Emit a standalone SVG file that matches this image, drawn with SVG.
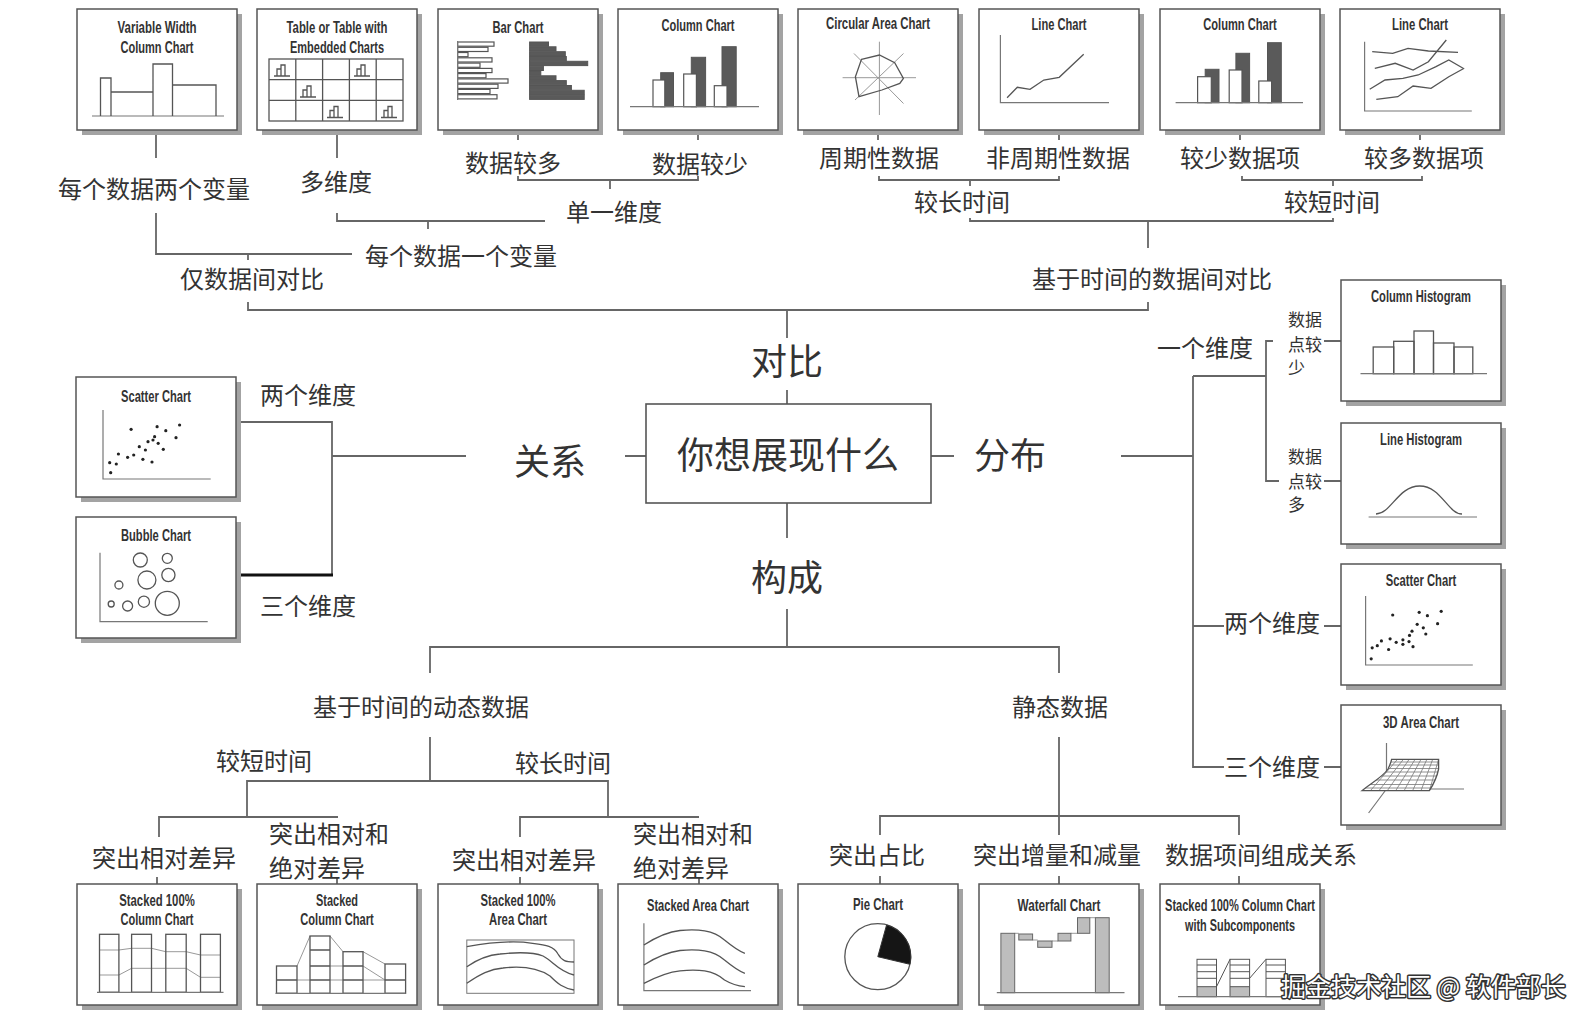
<svg xmlns="http://www.w3.org/2000/svg" width="1591" height="1029" viewBox="0 0 1591 1029">
<defs>
<style>
.sh{fill:#a3a3a3}
.bx{fill:#fff;stroke:#555;stroke-width:1.5}
.tt{font-family:"Liberation Sans Narrow","Liberation Sans",Arial,sans-serif;font-weight:700;font-size:17px;fill:#333;text-anchor:middle}
.lb{font-family:"Noto Sans CJK SC","Noto Sans CJK JP",sans-serif;font-size:24px;fill:#333;text-anchor:middle}
.lg{font-size:36px}
.sm{font-size:17px;text-anchor:start}
.st{text-anchor:start}
.cn{fill:none;stroke:#666;stroke-width:1.8}
.ax{fill:none;stroke:#777;stroke-width:1.2}
.ch{fill:none;stroke:#555;stroke-width:1.3}
.wb{fill:#fff;stroke:#555;stroke-width:1.2}
.db{fill:#5a5a5a;stroke:#555;stroke-width:1}
.gb{fill:#bdbdbd;stroke:#666;stroke-width:1}
.gl{fill:none;stroke:#999;stroke-width:1}
.dt{fill:#222}
.wm{font-family:"Noto Sans CJK SC",sans-serif;font-size:25px;fill:#fff;stroke:#333;stroke-width:3;paint-order:stroke;stroke-linejoin:round}
</style>
<g id="mi"><path class="ch" d="M0,13 H16 M3,13 V6 H7 V13 M7,13 V2 H11 V13"/></g>
<clipPath id="c3d"><path d="M50.6,54.3 L97.6,54.3 L97.6,64 C96,72 92,80 88.4,85.7 L21,85.7 C30,78 42,72 47,64 C49,60 50,57 50.6,54.3 Z"/></clipPath>
</defs>
<rect width="1591" height="1029" fill="#fff"/>

<g id="connectors">
<path class="cn" d="M156,130 V158 M156,213 V254 H352 M248,254 V260 M337,130 V158 M337,213 V221 H545 M428,221 V229"/>
<path class="cn" d="M518,130 V140 M698,130 V140 M518,176 V180 H698 V176 M610,180 V189"/>
<path class="cn" d="M878,130 V140 M1059,130 V140 M1240,130 V140 M1420,130 V140 M879,176 V180 H1059 V176 M970,180 V186 M1242,176 V180 H1422 V176 M1333,180 V186 M970,218 V221 H1333 V218 M1148,221 V248"/>
<path class="cn" d="M248,302 V310 H1148 V302 M787,310 V338 M787,390 V404"/>
<path class="cn" d="M787,503 V538 M787,609 V647 M430,673 V647 H1059 V673"/>
<path class="cn" d="M430,737 V781 M247,817 V781 H608 V817 M159,837 V817 H338 M520,837 V817 H699"/>
<path class="cn" d="M157,877 V884 M337,877 V884 M520,877 V884 M699,877 V884"/>
<path class="cn" d="M1059,737 V835 M880,835 V816 H1239 V835 M880,876 V884 M1059,876 V884 M1239,876 V884"/>
<path class="cn" d="M237,422 H332 V575 M332,456 H466 M625,456 H646"/>
<path fill="none" stroke="#111" stroke-width="3" d="M238,575 H333"/>
<path class="cn" d="M931,456 H954 M1121,456 H1193 M1193,376 V767 H1224 M1193,376 H1266 M1273,341 H1266 V481 H1279 M1193,626 H1224 M1324,341 H1341 M1324,481 H1341 M1324,626 H1341 M1324,767 H1341"/>
</g>

<g id="labels">
<text class="lb" x="154" y="197.5">每个数据两个变量</text>
<text class="lb" x="336" y="190.5">多维度</text>
<text class="lb" x="513" y="171.5">数据较多</text>
<text class="lb" x="700" y="172.5">数据较少</text>
<text class="lb" x="614" y="220.5">单一维度</text>
<text class="lb" x="461" y="264.5">每个数据一个变量</text>
<text class="lb" x="252" y="287.5">仅数据间对比</text>
<text class="lb" x="879" y="166.5">周期性数据</text>
<text class="lb" x="1058" y="166.5">非周期性数据</text>
<text class="lb" x="1240" y="166.5">较少数据项</text>
<text class="lb" x="1424" y="166.5">较多数据项</text>
<text class="lb" x="962" y="210.5">较长时间</text>
<text class="lb" x="1332" y="210.5">较短时间</text>
<text class="lb" x="1152" y="287.5">基于时间的数据间对比</text>
<text class="lb lg" x="787" y="375">对比</text>
<text class="lb lg" x="787" y="591">构成</text>
<text class="lb lg" x="550" y="475">关系</text>
<text class="lb lg" x="1010" y="469">分布</text>
<text class="lb" x="308" y="403.5">两个维度</text>
<text class="lb" x="308" y="614.5">三个维度</text>
<text class="lb" x="1205" y="356.5">一个维度</text>
<text class="lb" x="1272" y="631.5">两个维度</text>
<text class="lb" x="1272" y="775.5">三个维度</text>
<text class="lb sm" x="1288" y="326">数据</text>
<text class="lb sm" x="1288" y="351">点较</text>
<text class="lb sm" x="1288" y="374">少</text>
<text class="lb sm" x="1288" y="463">数据</text>
<text class="lb sm" x="1288" y="488">点较</text>
<text class="lb sm" x="1288" y="511">多</text>
<text class="lb" x="421" y="715.5">基于时间的动态数据</text>
<text class="lb" x="1060" y="715.5">静态数据</text>
<text class="lb" x="264" y="769.5">较短时间</text>
<text class="lb" x="563" y="771.5">较长时间</text>
<text class="lb" x="164" y="866.5">突出相对差异</text>
<text class="lb st" x="269" y="842.5">突出相对和</text>
<text class="lb st" x="269" y="876.5">绝对差异</text>
<text class="lb" x="524" y="868.5">突出相对差异</text>
<text class="lb st" x="633" y="842.5">突出相对和</text>
<text class="lb st" x="633" y="876.5">绝对差异</text>
<text class="lb" x="877" y="863.5">突出占比</text>
<text class="lb" x="1057" y="863.5">突出增量和减量</text>
<text class="lb" x="1261" y="863.5">数据项间组成关系</text>
</g>

<g id="center">
<rect x="646" y="404" width="285" height="99" fill="#fff" stroke="#555" stroke-width="1.6"/>
<text class="lb" x="788" y="469" style="font-size:37px">你想展现什么</text>
</g>

<g id="n-variable-width" transform="translate(77,9)">
<rect class="sh" x="5" y="5" width="160" height="121"/><rect class="bx" width="160" height="121"/>
<text class="tt" x="80" y="24" textLength="79" lengthAdjust="spacingAndGlyphs">Variable Width</text>
<text class="tt" x="80" y="44" textLength="73" lengthAdjust="spacingAndGlyphs">Column Chart</text>
<path class="ax" d="M15,107 H147"/>
<path class="ch" d="M23.5,107 V69 H34 V107 M34,83 H76 V107 M76,107 V55 H95.5 V107 M95.5,76 H139 V107"/>
</g>

<g id="n-table" transform="translate(257,9)">
<rect class="sh" x="5" y="5" width="160" height="121"/><rect class="bx" width="160" height="121"/>
<text class="tt" x="80" y="24" textLength="101" lengthAdjust="spacingAndGlyphs">Table or Table with</text>
<text class="tt" x="80" y="44" textLength="94" lengthAdjust="spacingAndGlyphs">Embedded Charts</text>
<rect class="ch" x="12" y="50" width="134" height="62"/>
<path class="ch" d="M38.8,50 V112 M65.6,50 V112 M92.4,50 V112 M119.2,50 V112 M12,70.7 H146 M12,91.3 H146"/>
<use href="#mi" x="17" y="54"/><use href="#mi" x="97" y="54"/><use href="#mi" x="43" y="75"/><use href="#mi" x="70" y="95.5"/><use href="#mi" x="124" y="95.5"/>
</g>

<g id="n-bar" transform="translate(438,9)">
<rect class="sh" x="5" y="5" width="160" height="121"/><rect class="bx" width="160" height="121"/>
<text class="tt" x="80" y="24" textLength="51" lengthAdjust="spacingAndGlyphs">Bar Chart</text>
<g class="wb">
<rect x="19.6" y="33" width="36.4" height="4.2"/><rect x="19.6" y="38.3" width="30.4" height="4.2"/><rect x="19.6" y="43.5" width="10.4" height="4.2"/><rect x="19.6" y="48.8" width="34.4" height="4.2"/><rect x="19.6" y="54.1" width="22.4" height="4.2"/><rect x="19.6" y="59.4" width="34.4" height="4.2"/><rect x="19.6" y="64.6" width="28.4" height="4.2"/><rect x="19.6" y="69.9" width="50.4" height="4.2"/><rect x="19.6" y="75.2" width="40.4" height="4.2"/><rect x="19.6" y="80.4" width="32.4" height="4.2"/><rect x="19.6" y="85.7" width="39.4" height="4.2"/>
</g>
<path class="ax" d="M19.6,32 V91"/>
<g class="db">
<rect x="91.6" y="33" width="18.9" height="4.3"/><rect x="91.6" y="37.8" width="26.4" height="4.3"/><rect x="91.6" y="42.7" width="35.7" height="4.3"/><rect x="91.6" y="47.5" width="36.7" height="4.3"/><rect x="91.6" y="52.3" width="58.1" height="4.3"/><rect x="91.6" y="57.2" width="13.8" height="4.3"/><rect x="91.6" y="62" width="11.2" height="4.3"/><rect x="91.6" y="66.8" width="26.4" height="4.3"/><rect x="91.6" y="71.6" width="36.7" height="4.3"/><rect x="91.6" y="76.5" width="41.8" height="4.3"/><rect x="91.6" y="81.3" width="54.6" height="4.3"/><rect x="91.6" y="86.1" width="54.6" height="4.3"/>
</g>
</g>

<g id="n-column-1" transform="translate(618,9)">
<rect class="sh" x="5" y="5" width="160" height="121"/><rect class="bx" width="160" height="121"/>
<text class="tt" x="80" y="22" textLength="73" lengthAdjust="spacingAndGlyphs">Column Chart</text>
<rect class="db" x="42.7" y="63.7" width="12.8" height="34"/><rect class="db" x="73.3" y="48.3" width="14.3" height="49.4"/><rect class="db" x="104" y="37.7" width="14.2" height="60"/>
<rect class="wb" x="35" y="71" width="11.8" height="26.7"/><rect class="wb" x="65.7" y="65" width="12.7" height="32.7"/><rect class="wb" x="96.3" y="76.7" width="12.7" height="21"/>
<path class="ax" d="M12,97.7 H141"/>
</g>

<g id="n-circular-area" transform="translate(798,9)">
<rect class="sh" x="5" y="5" width="160" height="121"/><rect class="bx" width="160" height="121"/>
<text class="tt" x="80" y="20" textLength="104" lengthAdjust="spacingAndGlyphs">Circular Area Chart</text>
<path class="gl" d="M44.6,68.7 H118 M81.4,32.7 V106 M56,44.5 L105.5,94.5 M105.5,44.5 L57,91"/>
<polygon class="ch" points="63.5,50.4 81.4,46 96.7,53.7 105.4,69.4 101.8,74.4 83.9,81 61,87.7 57.4,67.7"/>
</g>

<g id="n-line-1" transform="translate(979,9)">
<rect class="sh" x="5" y="5" width="160" height="121"/><rect class="bx" width="160" height="121"/>
<text class="tt" x="80" y="21" textLength="55" lengthAdjust="spacingAndGlyphs">Line Chart</text>
<path class="ax" d="M21.4,26 V93.7 H130"/>
<polyline class="ch" points="28.1,88.7 38.3,78.3 51,80.3 64.8,71 80.2,68.3 104.7,45.3"/>
</g>

<g id="n-column-2" transform="translate(1160,9)">
<rect class="sh" x="5" y="5" width="160" height="121"/><rect class="bx" width="160" height="121"/>
<text class="tt" x="80" y="21" textLength="73.5" lengthAdjust="spacingAndGlyphs">Column Chart</text>
<rect class="db" x="45.2" y="60.3" width="13.8" height="33.4"/><rect class="db" x="75.9" y="44.3" width="13.7" height="49.4"/><rect class="db" x="107.5" y="33.7" width="13.8" height="60"/>
<rect class="wb" x="37.6" y="67.7" width="13.7" height="26"/><rect class="wb" x="69.2" y="61" width="12.8" height="32.7"/><rect class="wb" x="98.8" y="72" width="12.8" height="21.7"/>
<path class="ax" d="M15.6,93.7 H143"/>
</g>

<g id="n-line-2" transform="translate(1340,9)">
<rect class="sh" x="5" y="5" width="160" height="121"/><rect class="bx" width="160" height="121"/>
<text class="tt" x="80" y="21" textLength="56" lengthAdjust="spacingAndGlyphs">Line Chart</text>
<path class="ax" d="M24.6,32.7 V102 H131.8"/>
<polyline class="ch" points="32.2,42.7 52.7,44.3 68,39.3 88.4,42 118,43.3"/>
<polyline class="ch" points="34.8,59.3 55.2,54.3 73.1,61 88.4,52.7 106.3,31"/>
<polyline class="ch" points="29.7,80.3 45,71 62.9,69.3 78.2,66 96,57.7 108.8,51 123.1,59.3"/>
<polyline class="ch" points="36.3,90.3 57.8,87.7 73.1,77 91,79.3 108.8,67.7 124.2,59.3"/>
</g>

<g id="n-scatter-left" transform="translate(76,377)">
<rect class="sh" x="5" y="5" width="160" height="120"/><rect class="bx" width="160" height="120"/>
<text class="tt" x="80" y="25" textLength="70" lengthAdjust="spacingAndGlyphs">Scatter Chart</text>
<path class="ax" d="M27,33 V102 H134.7"/>
<g class="dt">
<circle cx="55.1" cy="52.3" r="1.6"/><circle cx="81.1" cy="49.7" r="1.6"/><circle cx="103.6" cy="48" r="1.6"/><circle cx="89.8" cy="53.7" r="1.6"/><circle cx="78.6" cy="59.7" r="1.6"/><circle cx="100" cy="60.7" r="1.6"/><circle cx="72" cy="64.7" r="1.6"/><circle cx="82.2" cy="66.3" r="1.6"/><circle cx="63.3" cy="69.7" r="1.6"/><circle cx="69.4" cy="73" r="1.6"/><circle cx="87.3" cy="72.3" r="1.6"/><circle cx="42.4" cy="77" r="1.6"/><circle cx="57.7" cy="78" r="1.6"/><circle cx="51.6" cy="80.3" r="1.6"/><circle cx="66.9" cy="82.3" r="1.6"/><circle cx="76" cy="85" r="1.6"/><circle cx="33.7" cy="85.7" r="1.6"/><circle cx="40.3" cy="87" r="1.6"/><circle cx="34.7" cy="95.7" r="1.6"/><circle cx="77" cy="63" r="1.6"/>
</g>
</g>

<g id="n-bubble" transform="translate(76,517)">
<rect class="sh" x="5" y="5" width="160" height="121"/><rect class="bx" width="160" height="121"/>
<text class="tt" x="80" y="24" textLength="70" lengthAdjust="spacingAndGlyphs">Bubble Chart</text>
<path class="ax" d="M24,35.7 V104.7 H131.7"/>
<g class="ch">
<circle cx="64.3" cy="43" r="7"/><circle cx="91.3" cy="41.3" r="5"/><circle cx="70.9" cy="63" r="9"/><circle cx="92.4" cy="58" r="6.6"/><circle cx="42.9" cy="68" r="4"/><circle cx="67.9" cy="84.7" r="5.6"/><circle cx="51.6" cy="89" r="5"/><circle cx="35.2" cy="87" r="3"/><circle cx="91.3" cy="86.3" r="12"/>
</g>
</g>

<g id="n-column-histogram" transform="translate(1341,280)">
<rect class="sh" x="5" y="5" width="160" height="121"/><rect class="bx" width="160" height="121"/>
<text class="tt" x="80" y="21.5" textLength="100" lengthAdjust="spacingAndGlyphs">Column Histogram</text>
<g class="ch"><rect x="32.2" y="67" width="20.5" height="26.7"/><rect x="52.7" y="61.3" width="20.3" height="32.4"/><rect x="73" y="51" width="19.5" height="42.7"/><rect x="92.5" y="63" width="20.5" height="30.7"/><rect x="113" y="67" width="18.8" height="26.7"/></g>
<path class="ax" d="M19.5,93.7 H146"/>
</g>

<g id="n-line-histogram" transform="translate(1341,423)">
<rect class="sh" x="5" y="5" width="160" height="121"/><rect class="bx" width="160" height="121"/>
<text class="tt" x="80" y="21.5" textLength="82" lengthAdjust="spacingAndGlyphs">Line Histogram</text>
<path class="ax" d="M27.6,94 H136"/>
<path class="ch" d="M35,91 C50,91 57,63 78.7,63 C100,63 107,91 121,91"/>
</g>

<g id="n-scatter-right" transform="translate(1341,564)">
<rect class="sh" x="5" y="5" width="160" height="121"/><rect class="bx" width="160" height="121"/>
<text class="tt" x="80" y="21.5" textLength="70.5" lengthAdjust="spacingAndGlyphs">Scatter Chart</text>
<path class="ax" d="M24.6,32 V101 H131.8"/>
<g class="dt">
<circle cx="51.7" cy="51" r="1.6"/><circle cx="78.2" cy="48.3" r="1.6"/><circle cx="86.4" cy="51.7" r="1.6"/><circle cx="100.2" cy="47.3" r="1.6"/><circle cx="96.6" cy="59.7" r="1.6"/><circle cx="76.2" cy="60.3" r="1.6"/><circle cx="82.3" cy="63.8" r="1.6"/><circle cx="71" cy="67.2" r="1.6"/><circle cx="84.8" cy="70" r="1.6"/><circle cx="68.5" cy="71.4" r="1.6"/><circle cx="61.9" cy="75.8" r="1.6"/><circle cx="55.2" cy="78.3" r="1.6"/><circle cx="72" cy="82.7" r="1.6"/><circle cx="49.1" cy="74.8" r="1.6"/><circle cx="40.4" cy="76.9" r="1.6"/><circle cx="61.9" cy="80.3" r="1.6"/><circle cx="47.6" cy="85.5" r="1.6"/><circle cx="36.3" cy="81.7" r="1.6"/><circle cx="31.2" cy="83.8" r="1.6"/><circle cx="30.2" cy="94.8" r="1.6"/><circle cx="68" cy="77.6" r="1.6"/>
</g>
</g>

<g id="n-3d-area" transform="translate(1341,705)">
<rect class="sh" x="5" y="5" width="160" height="120"/><rect class="bx" width="160" height="120"/>
<text class="tt" x="80" y="22.5" textLength="76" lengthAdjust="spacingAndGlyphs">3D Area Chart</text>
<path class="ax" d="M45.5,38 V84 H123 M45.5,84 L27.6,108"/>
<path fill="#fff" d="M50.6,54.3 L97.6,54.3 L97.6,64 C96,72 92,80 88.4,85.7 L21,85.7 C30,78 42,72 47,64 C49,60 50,57 50.6,54.3 Z"/>
<g clip-path="url(#c3d)" class="gl" style="stroke:#777;stroke-width:0.8">
<path d="M10,57 H110 M10,60 H110 M10,63.5 H110 M10,67 H110 M10,71 H110 M10,75 H110 M10,79.5 H110 M10,83 H110"/>
<path d="M50.6,54.3 L21,85.7 M56.5,54.3 L29.4,85.7 M62.4,54.3 L37.9,85.7 M68.2,54.3 L46.3,85.7 M74.1,54.3 L54.7,85.7 M80,54.3 L63.1,85.7 M85.9,54.3 L71.6,85.7 M91.7,54.3 L80,85.7 M97.6,54.3 L88.4,85.7"/>
</g>
<path class="ch" d="M50.6,54.3 L97.6,54.3 L97.6,64 C96,72 92,80 88.4,85.7 L21,85.7 C30,78 42,72 47,64 C49,60 50,57 50.6,54.3 Z"/>
</g>

<g id="n-stacked100-column" transform="translate(77,884)">
<rect class="sh" x="5" y="5" width="160" height="121"/><rect class="bx" width="160" height="121"/>
<text class="tt" x="80" y="21.5" textLength="75.5" lengthAdjust="spacingAndGlyphs">Stacked 100%</text>
<text class="tt" x="80" y="40.5" textLength="73" lengthAdjust="spacingAndGlyphs">Column Chart</text>
<polyline class="gl" points="22.5,66 41.9,66 54.6,64.3 74.5,64.3 88.8,67.7 109.2,67.7 123.5,71 143.4,71"/>
<polyline class="gl" points="22.5,91 41.9,91 54.6,84.3 74.5,84.3 88.8,84.3 109.2,84.3 123.5,93.3 143.4,93.3"/>
<g class="ch"><rect x="22.5" y="50.3" width="19.4" height="58"/><rect x="54.6" y="50.3" width="19.9" height="58"/><rect x="88.8" y="50.3" width="20.4" height="58"/><rect x="123.5" y="50.3" width="19.9" height="58"/></g>
<path class="ax" d="M20,108.3 H146.5"/>
</g>

<g id="n-stacked-column" transform="translate(257,884)">
<rect class="sh" x="5" y="5" width="160" height="121"/><rect class="bx" width="160" height="121"/>
<text class="tt" x="80" y="21.5" textLength="42" lengthAdjust="spacingAndGlyphs">Stacked</text>
<text class="tt" x="80" y="40.5" textLength="73.5" lengthAdjust="spacingAndGlyphs">Column Chart</text>
<path class="gl" d="M40,82 L53,52 M40,96 H53 M73,52 L86,67.7 M73,82 H86 M73,96 H86 M106,67.7 L128,80 M106,82 L128,96 M106,96 H128"/>
<g class="ch"><rect x="19.5" y="82" width="20.5" height="27.3"/><rect x="53" y="52" width="20" height="57.3"/><rect x="86" y="67.7" width="20" height="41.6"/><rect x="128" y="80" width="20.6" height="29.3"/>
<path d="M19.5,96 H40 M53,66 H73 M53,82 H73 M53,96 H73 M86,82 H106 M86,96 H106 M128,96 H148.6"/></g>
<path class="ax" d="M18.5,109.3 H148.6"/>
</g>

<g id="n-stacked100-area" transform="translate(438,884)">
<rect class="sh" x="5" y="5" width="160" height="121"/><rect class="bx" width="160" height="121"/>
<text class="tt" x="80" y="21.5" textLength="75" lengthAdjust="spacingAndGlyphs">Stacked 100%</text>
<text class="tt" x="80" y="40.5" textLength="58" lengthAdjust="spacingAndGlyphs">Area Chart</text>
<rect class="gl" x="28.8" y="56" width="107.2" height="53.3" style="stroke:#777"/>
<path class="ch" d="M28.8,62.7 C55,58 80,57 94.6,59.3 C108,61 116,62 120,70 C124,77 128,78 136,78"/>
<path class="ch" d="M28.8,82.7 C40,75 50,71 62,70 C80,68 95,68 105,72 C115,77 120,87 136,91"/>
<path class="ch" d="M28.8,99.3 C42,90 52,85 65,84 C82,82 100,84 112,92 C120,100 125,104 136,106"/>
</g>

<g id="n-stacked-area" transform="translate(618,884)">
<rect class="sh" x="5" y="5" width="160" height="121"/><rect class="bx" width="160" height="121"/>
<text class="tt" x="80" y="27" textLength="102" lengthAdjust="spacingAndGlyphs">Stacked Area Chart</text>
<path class="ax" d="M25.9,39.3 V106.7 H133"/>
<path class="ch" d="M25.9,61 C40,52 50,47.7 62,46.5 C80,45 95,46 106.5,56 C115,63 120,67 126.9,69.3"/>
<path class="ch" d="M25.9,81 C40,72 50,68 62,66.5 C80,65 95,66 106.5,76 C115,83 120,87 126.9,89.3"/>
<path class="ch" d="M25.9,99.3 C40,92 50,88 62,86.8 C80,85 95,86 106.5,96 C115,101 120,102 126.9,102.7"/>
</g>

<g id="n-pie" transform="translate(798,884)">
<rect class="sh" x="5" y="5" width="160" height="121"/><rect class="bx" width="160" height="121"/>
<text class="tt" x="80" y="25.5" textLength="50" lengthAdjust="spacingAndGlyphs">Pie Chart</text>
<circle class="ch" cx="79.8" cy="72.7" r="33" style="fill:#fff"/>
<path d="M79.8,72.7 L88.6,40.9 A33,33 0 0 1 111.9,80.3 Z" fill="#151515" stroke="#333"/>
</g>

<g id="n-waterfall" transform="translate(979,884)">
<rect class="sh" x="5" y="5" width="160" height="121"/><rect class="bx" width="160" height="121"/>
<text class="tt" x="80" y="27" textLength="83" lengthAdjust="spacingAndGlyphs">Waterfall Chart</text>
<path class="gl" d="M35.7,49.3 H39.8 M53.6,56 H58.7 M73,57 H79 M91.9,49.3 H98.5 M110.8,33.7 H116.4"/>
<rect class="gb" x="21.9" y="49.3" width="13.8" height="59.4"/>
<rect class="gb" x="39.8" y="50" width="13.8" height="6"/>
<rect class="gb" x="58.7" y="57" width="14.3" height="6.3"/>
<rect class="gb" x="79" y="49.3" width="12.9" height="7.7"/>
<rect class="gb" x="98.5" y="33.7" width="12.3" height="15.6"/>
<rect class="gb" x="116.4" y="33.7" width="13.8" height="75"/>
<path class="ax" d="M17.8,108.7 H145.5"/>
</g>

<g id="n-stacked100-sub" transform="translate(1160,884)">
<rect class="sh" x="5" y="5" width="160" height="121"/><rect class="bx" width="160" height="121"/>
<text class="tt" x="80" y="26.5" textLength="150" lengthAdjust="spacingAndGlyphs">Stacked 100% Column Chart</text>
<text class="tt" x="80" y="47" textLength="110" lengthAdjust="spacingAndGlyphs">with Subcomponents</text>
<rect class="gb" x="37" y="102.7" width="19.5" height="10" style="stroke:none"/>
<rect class="gb" x="70" y="102.7" width="19.6" height="10" style="stroke:none"/>
<g class="ch" style="stroke-width:1">
<rect x="37" y="75.3" width="19.5" height="37.4"/><rect x="70" y="75.3" width="19.6" height="37.4"/><rect x="106" y="75.3" width="19.4" height="37.4"/>
<path d="M37,81 H56.5 M37,87.7 H56.5 M37,94.3 H56.5 M37,102.7 H56.5 M70,81 H89.6 M70,87.7 H89.6 M70,94.3 H89.6 M70,102.7 H89.6 M106,81 H125.4 M106,87.7 H125.4 M106,94.3 H125.4 M56.5,102.7 L70,75.3 M89.6,94.3 L106,75.3"/>
</g>
<path class="ax" d="M18,112.7 H140.7"/>
</g>

<text class="wm" x="1281" y="996">掘金技术社区 @ 软件部长</text>
</svg>
